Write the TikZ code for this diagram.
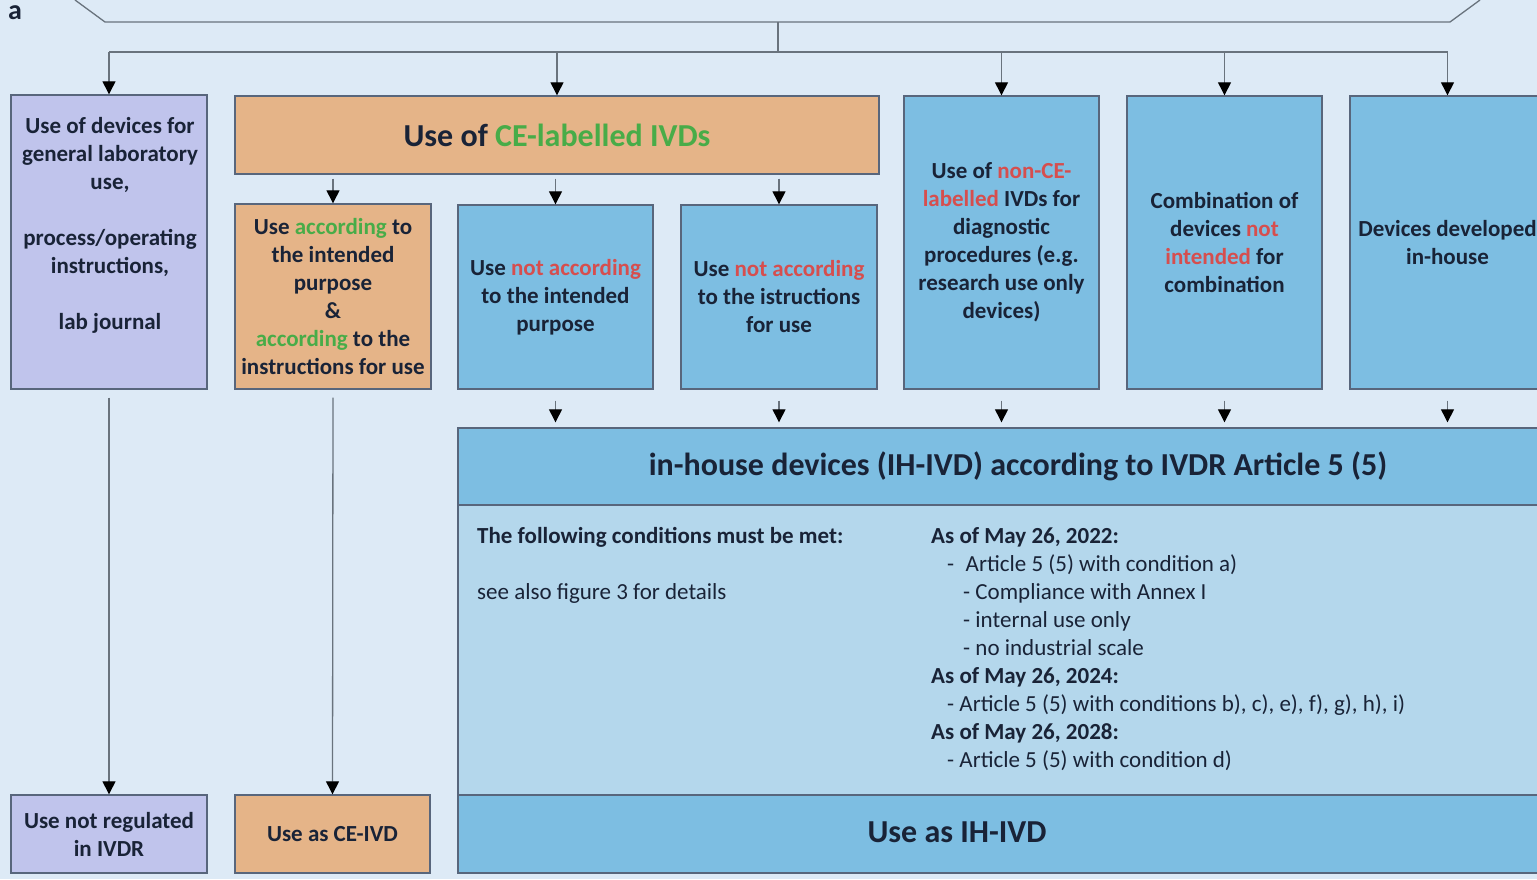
\documentclass[tikz,border=0pt]{standalone}
\usepackage{fontspec}
\setmainfont{Carlito}
\usetikzlibrary{arrows.meta}
\definecolor{bgc}{RGB}{221,234,246}
\definecolor{purp}{RGB}{192,196,236}
\definecolor{orng}{RGB}{229,180,136}
\definecolor{blu}{RGB}{125,190,226}
\definecolor{lblu}{RGB}{180,215,236}
\definecolor{bordc}{RGB}{88,102,124}
\definecolor{txt}{RGB}{25,35,55}
\definecolor{grn}{RGB}{72,172,72}
\definecolor{rd}{RGB}{214,78,78}
\definecolor{linec}{RGB}{105,115,125}
\begin{document}
\begin{tikzpicture}[x=1pt,y=-1pt,
  box/.style={draw=bordc, line width=1.4pt, inner sep=0pt, align=center, text=txt,
    font=\bfseries\fontsize{23}{28}\selectfont},
  bigtxt/.style={font=\bfseries\fontsize{32}{36}\selectfont, text=txt},
  plain/.style={inner sep=0pt, text=txt, anchor=mid west, font=\fontsize{23}{28}\selectfont},
  bplain/.style={plain, font=\bfseries\fontsize{23}{28}\selectfont},
  conn/.style={draw=linec, line width=1.3pt},
  arr/.style={conn, -{Triangle[length=13pt,width=13pt,color=black]}}]
\useasboundingbox[fill=bgc] (0,0) rectangle (1537,879);
\node[font=\bfseries\fontsize{28}{30}\selectfont, text=txt] (lbl) at (15,13) {a};
% top bracket
\coordinate (bl) at (75,0);
\coordinate (bl2) at (105,22);
\coordinate (br2) at (1450,22);
\coordinate (br) at (1480,0);
\coordinate (hub) at (778,22);
\coordinate (split) at (778,52);
\draw[conn] (bl) -- (bl2) -- (br2) -- (br);
% row 1 boxes
\node[box, fill=purp, minimum width=196pt, minimum height=294pt] (gen) at (109,242) {};
\node[align=center, text=txt, font=\bfseries\fontsize{23}{28}\selectfont] (gentxt) at (110,225)
  {Use of devices for\\general laboratory\\use,\\[28pt]process/operating\\instructions,\\[28pt]lab journal};
\node[box, fill=orng, minimum width=644pt, minimum height=78pt, bigtxt] (ce) at (557,135)
  {Use of \textcolor{grn}{CE-labelled IVDs}};
\node[box, fill=blu, minimum width=195pt, minimum height=293pt] (t1) at (1001.5,242.5)
  {Use of \textcolor{rd}{non-CE-}\\\textcolor{rd}{labelled} IVDs for\\diagnostic\\procedures (e.g.\\research use only\\devices)};
\node[box, fill=blu, minimum width=195pt, minimum height=293pt] (t2) at (1224.5,242.5)
  {Combination of\\devices \textcolor{rd}{not}\\\textcolor{rd}{intended} for\\combination};
\node[box, fill=blu, minimum width=195pt, minimum height=293pt] (t3) at (1447.5,242.5)
  {Devices developed\\in-house};
% row 2 boxes
\node[box, fill=orng, minimum width=196pt, minimum height=185pt] (ors) at (333,296.5)
  {Use \textcolor{grn}{according} to\\the intended\\purpose\\\&\\\textcolor{grn}{according} to the\\instructions for use};
\node[box, fill=blu, minimum width=195pt, minimum height=184pt] (b1) at (555.5,297)
  {Use \textcolor{rd}{not according}\\to the intended\\purpose};
\node[box, fill=blu, minimum width=196pt, minimum height=184pt] (b2) at (779,297)
  {Use \textcolor{rd}{not according}\\to the istructions\\for use};
% in-house block
\node[box, fill=lblu, minimum width=1120pt, minimum height=290pt] (cond) at (1018,650) {};
\node[box, fill=blu, minimum width=1120pt, minimum height=77pt, bigtxt] (ih) at (1018,466.5)
  {in-house devices (IH-IVD) according to IVDR Article 5 (5)};
\node[box, fill=blu, minimum width=1120pt, minimum height=78pt] (ihb) at (1018,834) {};
\node[bigtxt] (ihbtxt) at (957,832) {Use as IH-IVD};
% bottom left boxes
\node[box, fill=purp, minimum width=196pt, minimum height=78pt] (genb) at (109,834)
  {Use not regulated\\in IVDR};
\node[box, fill=orng, minimum width=195pt, minimum height=78pt] (orb) at (332.5,834)
  {Use as CE-IVD};
% condition texts
\node[bplain] (c0) at (477,541) {The following conditions must be met:};
\node[plain] (c0b) at (477,597) {see also figure 3 for details};
\node[bplain] (c1) at (931,541) {As of May 26, 2022:};
\node[plain] (c2) at (947,569) {-\enspace Article 5 (5) with condition a)};
\node[plain] (c3) at (963,597) {- Compliance with Annex I};
\node[plain] (c4) at (963,625) {- internal use only};
\node[plain] (c5) at (963,653) {- no industrial scale};
\node[bplain] (c6) at (931,681) {As of May 26, 2024:};
\node[plain] (c7) at (947,709) {- Article 5 (5) with conditions b), c), e), f), g), h), i)};
\node[bplain] (c8) at (931,737) {As of May 26, 2028:};
\node[plain] (c9) at (947,765) {- Article 5 (5) with condition d)};
% connectors
\draw[conn] (hub) -- (split);
\draw[conn] (gen.north |- split) -- (t3.north |- split);
\foreach \n in {gen,ce,t1,t2,t3} {
  \draw[arr] (\n.north |- split) -- (\n.north);
}
\foreach \n in {ors,b1,b2} {
  \draw[arr, shorten <=4pt] (\n.north |- ce.south) -- (\n.north);
}
\foreach \n in {b1,b2,t1,t2,t3} {
  \draw[arr, shorten <=11pt, shorten >=5pt] (\n.south) -- (\n.south |- ih.north);
}
\draw[arr, shorten <=8pt] (gen.south) -- (genb.north);
\draw[arr, shorten <=8pt] (ors.south) -- (orb.north);
\end{tikzpicture}
\end{document}
